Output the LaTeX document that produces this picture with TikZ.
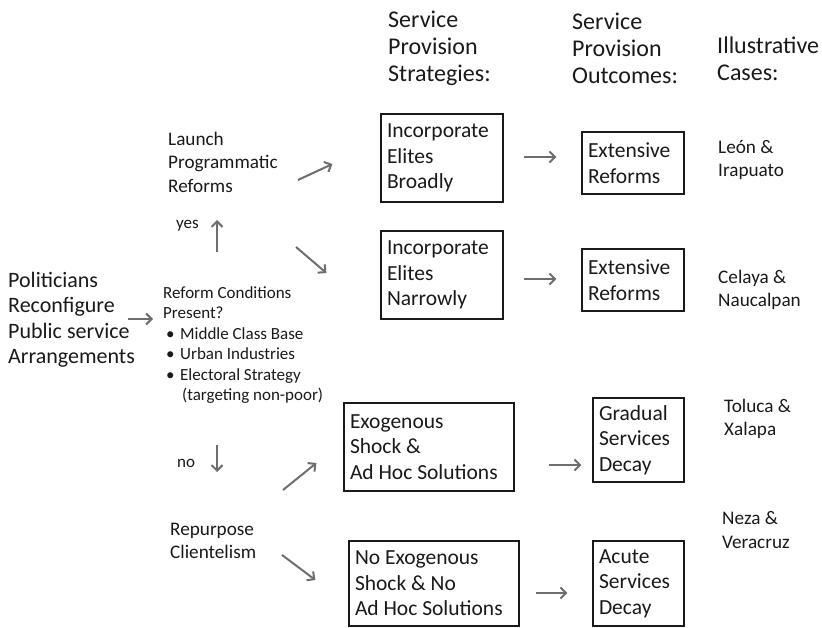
\documentclass[tikz,border=0pt]{standalone}
\usepackage{fontspec}
\setmainfont{Carlito}
\usetikzlibrary{arrows.meta}
\hyphenpenalty=10000
\definecolor{ink}{HTML}{1A1A1A}
\definecolor{arrowgray}{HTML}{6E6E6E}
\tikzset{every node/.style={text=ink, inner sep=0pt, align=left},
head/.style={anchor=west, font=\fontsize{24}{27}\selectfont},
big/.style={anchor=west, font=\fontsize{22}{25.5}\selectfont},
mid/.style={anchor=west, font=\fontsize{19.2}{23.5}\selectfont},
small/.style={anchor=west, font=\fontsize{17}{20.5}\selectfont},
box/.style={draw=ink, line width=1.2pt, inner xsep=6pt, inner ysep=0pt,
  align=flush left, font=\fontsize{21.5}{25.5}\selectfont},
flow/.style={draw=arrowgray, line width=2pt, -{Straight Barb[length=5.5pt,width=11pt]}}
}

\begin{document}
\begin{tikzpicture}[x=1pt, y=-1pt]
    \fill[white] (0,0) rectangle (822,628);
    \useasboundingbox (0,0) rectangle (822,628);

    % column heads
    \node[head] (h_strat) at (388,48) {Service\\Provision\\Strategies:};
    \node[head] (h_out)   at (572,48) {Service\\Provision\\Outcomes:};
    \node[head] (h_cases) at (717,59) {Illustrative\\Cases:};

    % left side
    \node[big]   (politicians) at (8,320)   {Politicians\\Reconfigure\\Public service\\Arrangements};
    \node[small] (conditions)  at (163,345) {Reform Conditions\\Present?\\
      \makebox[17pt][l]{\hspace{3pt}\textbullet}Middle Class Base\\
      \makebox[17pt][l]{\hspace{3pt}\textbullet}Urban Industries\\
      \makebox[17pt][l]{\hspace{3pt}\textbullet}Electoral Strategy\\
      \hspace*{19pt}(targeting non-poor)};
    \node[mid]   (launch)    at (168,162) {Launch\\Programmatic\\Reforms};
    \node[small] (yes)       at (176,226) {yes};
    \node[small] (no)        at (177,463) {no};
    \node[mid]   (repurpose) at (170,541) {Repurpose\\Clientelism};

    % strategies
    \node[box, text width=110pt, minimum height=88pt] (broad)  at (442,158) {Incorporate\\Elites\\Broadly};
    \node[box, text width=110pt, minimum height=88pt] (narrow) at (442,275) {Incorporate\\Elites\\Narrowly};
    \node[box, text width=158pt, minimum height=88pt] (shock)  at (429,447) {Exogenous\\Shock \&\\Ad Hoc Solutions};
    \node[box, text width=158pt, minimum height=85pt] (noshock) at (434,583.5) {No Exogenous\\Shock \& No\\Ad Hoc Solutions};

    % outcomes
    \node[box, text width=90pt, minimum height=62pt] (ext_a)   at (633,163) {Extensive\\Reforms};
    \node[box, text width=90pt, minimum height=62pt] (ext_b)   at (633,280) {Extensive\\Reforms};
    \node[box, text width=79pt, minimum height=84pt] (gradual) at (638.5,440) {Gradual\\Services\\Decay};
    \node[box, text width=79pt, minimum height=85pt] (acute)   at (638.5,583.5) {Acute\\Services\\Decay};

    % cases
    \node[mid] (leon)   at (718,160) {León \&\\Irapuato};
    \node[mid] (celaya) at (718,290) {Celaya \&\\Naucalpan};
    \node[mid] (toluca) at (724,419) {Toluca \&\\Xalapa};
    \node[mid] (neza)   at (722,530) {Neza \&\\Veracruz};

    % arrows
    \draw[flow] ([shift={(120,-1)}]politicians.west) -- ([shift={(-10,-26)}]conditions.west);
    \draw[flow] ([shift={(54,-93)}]conditions.west) -- ([shift={(49,58)}]launch.west);
    \draw[flow] ([shift={(54,100)}]conditions.west) -- ([shift={(47,-69)}]repurpose.west);
    \draw[flow] ([shift={(130,18)}]launch.west) -- ([shift={(-48,6)}]broad.west);
    \draw[flow] ([shift={(128,85)}]launch.west) -- ([shift={(-54,-2)}]narrow.west);
    \draw[flow] ([shift={(113,-51)}]repurpose.west) -- ([shift={(-27,16)}]shock.west);
    \draw[flow] ([shift={(112,14)}]repurpose.west) -- ([shift={(-33,-3.5)}]noshock.west);
    \draw[flow] ([shift={(20,-1)}]broad.east) -- ([shift={(-25,-6)}]ext_a.west);
    \draw[flow] ([shift={(20,4)}]narrow.east) -- ([shift={(-25,-1)}]ext_b.west);
    \draw[flow] ([shift={(34,18)}]shock.east) -- ([shift={(-11,25)}]gradual.west);
    \draw[flow] ([shift={(16,9.5)}]noshock.east) -- ([shift={(-25,9.5)}]acute.west);
\end{tikzpicture}
\end{document}
